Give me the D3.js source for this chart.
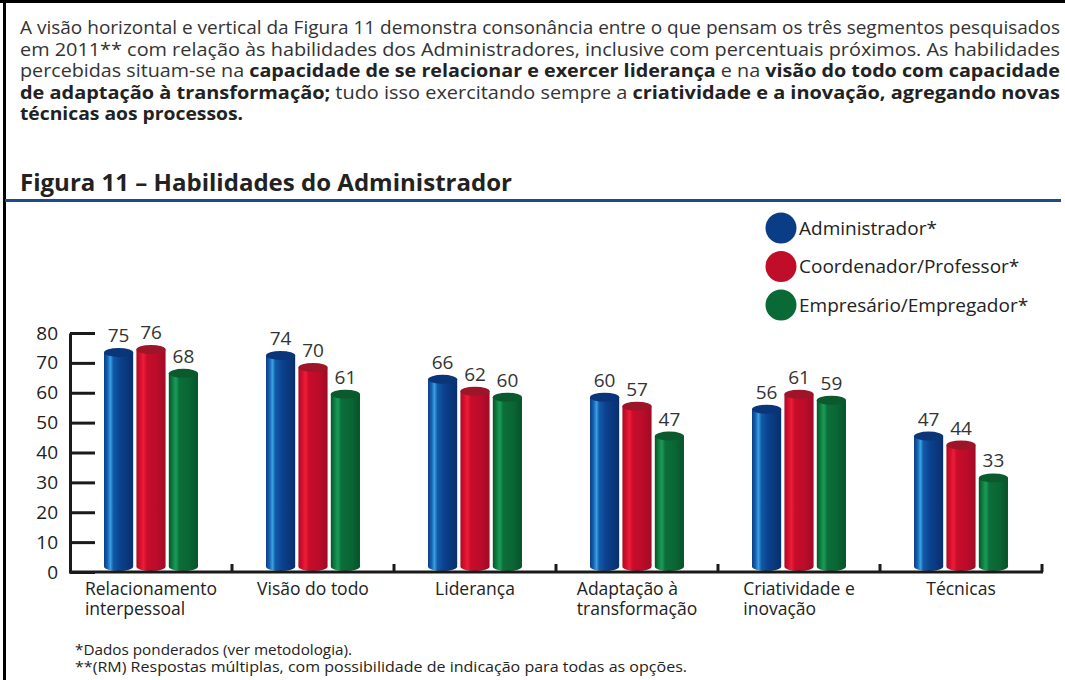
<!DOCTYPE html>
<html>
<head>
<meta charset="utf-8">
<script src="https://cdn.jsdelivr.net/npm/d3@7"></script>
<style>
  body { margin: 0; background: #fff; }
  svg { display: block; }
</style>
</head>
<body>
<div id="chart"></div>
<script>
// Data
const categories = [
    ['Relacionamento', 'interpessoal'],
    ['Visão do todo'],
    ['Liderança'],
    ['Adaptação à', 'transformação'],
    ['Criatividade e', 'inovação'],
    ['Técnicas']
];
const seriesNames = ['Administrador*', 'Coordenador/Professor*', 'Empresário/Empregador*'];
const administrador = [75, 74, 66, 60, 56, 47];
const coordenador = [76, 70, 62, 57, 61, 44];
const empresario = [68, 61, 60, 47, 59, 33];
const yTicks = [0, 10, 20, 30, 40, 50, 60, 70, 80];

const paragraph = [
    [['A visão horizontal e vertical da Figura 11 demonstra consonância entre o que pensam os três segmentos pesquisados', false]],
    [['em 2011** com relação às habilidades dos Administradores, inclusive com percentuais próximos. As habilidades', false]],
    [['percebidas situam-se na ', false], ['capacidade de se relacionar e exercer liderança', true], [' e na ', false], ['visão do todo com capacidade', true]],
    [['de adaptação à transformação;', true], [' tudo isso exercitando sempre a ', false], ['criatividade e a inovação, agregando novas', true]],
    [['técnicas aos processos.', true]]
];
const title = 'Figura 11 – Habilidades do Administrador';
const footnotes = [
    '*Dados ponderados (ver metodologia).',
    '**(RM) Respostas múltiplas, com possibilidade de indicação para todas as opções.'
];

const width = 1065, height = 680;
const font = '"Open Sans", "Noto Sans", sans-serif';

const svg = d3.select('#chart').append('svg')
    .attr('width', width)
    .attr('height', height)
    .attr('viewBox', [0, 0, width, height]);

// Frame (top and left black edges)
svg.append('rect').attr('x', 0).attr('y', 0).attr('width', width).attr('height', 3).attr('fill', '#000');
svg.append('rect').attr('x', 3).attr('y', 0).attr('width', 3).attr('height', height).attr('fill', '#000');

// Intro paragraph, justified by textLength
const paraY = [34, 55.5, 77, 98.5, 120];
paragraph.forEach((line, i) => {
    const t = svg.append('text')
        .attr('x', 20)
        .attr('y', paraY[i])
        .attr('font-family', font)
        .attr('font-size', 17.5)
        .attr('fill', '#333')
        .attr('textLength', i < 4 ? 1040 : 223)
        .attr('lengthAdjust', 'spacingAndGlyphs');
    line.forEach(([s, bold]) => {
        t.append('tspan')
            .attr('font-weight', bold ? 700 : 400)
            .attr('fill', bold ? '#222' : '#333')
            .text(s);
    });
});

// Title + blue rule
svg.append('text')
    .attr('x', 20).attr('y', 191)
    .attr('font-family', font)
    .attr('font-size', 23)
    .attr('font-weight', 700)
    .attr('fill', '#222')
    .attr('textLength', 492)
    .attr('lengthAdjust', 'spacingAndGlyphs')
    .text(title);
svg.append('rect').attr('x', 5).attr('y', 199).attr('width', 1056).attr('height', 3).attr('fill', '#1d4b8c');

// Colors / gradients
const colors = [
    { base: '#0b3d86', top: '#0a3578', stops: [['0%', '#0a3a80'], ['12%', '#1662b4'], ['22%', '#3aa0e2'], ['32%', '#125aa8'], ['55%', '#0b418e'], ['100%', '#082f6c']] },
    { base: '#c00d2a', top: '#9e1428', stops: [['0%', '#a80c26'], ['14%', '#d8102e'], ['24%', '#ee1c38'], ['36%', '#c80c2a'], ['70%', '#bb0c2a'], ['100%', '#a00a26']] },
    { base: '#0a6a36', top: '#0a5a2d', stops: [['0%', '#085228'], ['14%', '#0f8244'], ['24%', '#1a9c58'], ['36%', '#0c6e3a'], ['70%', '#0a6634'], ['100%', '#07522a']] }
];
const defs = svg.append('defs');
colors.forEach((c, i) => {
    const g = defs.append('linearGradient').attr('id', 'cyl' + i)
        .attr('x1', '0%').attr('x2', '100%').attr('y1', '0%').attr('y2', '0%');
    c.stops.forEach(([o, col]) => g.append('stop').attr('offset', o).attr('stop-color', col));
});

// Scales
const x0 = d3.scaleBand().domain(d3.range(categories.length)).range([70, 1042]).padding(0);
const x1 = d3.scaleBand().domain(d3.range(seriesNames.length)).range([0, x0.bandwidth()])
    .paddingInner(0.1).paddingOuter(1.05);
const y = d3.scaleLinear().domain([0, 80]).range([572, 333]);

// Y axis, ticks pointing inwards
const yAxis = svg.append('g')
    .attr('transform', 'translate(70,0)')
    .call(d3.axisLeft(y).tickValues(yTicks).tickSizeInner(-25).tickSizeOuter(0).tickPadding(12));
yAxis.select('.domain').attr('stroke', '#1a1a1a').attr('stroke-width', 3);
yAxis.selectAll('.tick line').attr('stroke', '#1a1a1a').attr('stroke-width', 3);
yAxis.selectAll('.tick text')
    .attr('font-family', font).attr('font-size', 19).attr('fill', '#222');

// Bars (cylinders)
const allSeries = [administrador, coordenador, empresario];
const ry = 4.5;
const bars = svg.append('g');
categories.forEach((cat, ci) => {
    allSeries.forEach((vals, si) => {
        const v = vals[ci];
        const bx = x0(ci) + x1(si);
        const bw = x1.bandwidth();
        const cx = bx + bw / 2;
        const yTop = y(v) + ry;
        const yBot = y(0) - ry - 1;
        const g = bars.append('g');
        g.append('path')
            .attr('d', `M${bx},${yTop} L${bx},${yBot} A${bw / 2},${ry} 0 0 0 ${bx + bw},${yBot} L${bx + bw},${yTop} Z`)
            .attr('fill', `url(#cyl${si})`);
        g.append('ellipse')
            .attr('cx', cx).attr('cy', yTop)
            .attr('rx', bw / 2).attr('ry', ry)
            .attr('fill', colors[si].top);
        g.append('text')
            .attr('x', cx).attr('y', y(v) - 6)
            .attr('text-anchor', 'middle')
            .attr('font-family', font).attr('font-size', 19)
            .attr('fill', '#333')
            .text(v);
    });
});

// X axis line with separator ticks
const xAxis = svg.append('g');
xAxis.append('line')
    .attr('x1', 69).attr('x2', x0.range()[1] + 1)
    .attr('y1', y(0)).attr('y2', y(0))
    .attr('stroke', '#1a1a1a').attr('stroke-width', 3);
categories.forEach((cat, ci) => {
    const sx = x0(ci) + x0.bandwidth();
    xAxis.append('line')
        .attr('x1', sx).attr('x2', sx)
        .attr('y1', y(0)).attr('y2', y(0) - 8)
        .attr('stroke', '#1a1a1a').attr('stroke-width', 3);
});

// Category labels (multi-line blocks left aligned, block centred)
categories.forEach((cat, ci) => {
    const cx = x0(ci) + x0.bandwidth() / 2;
    const t = xAxis.append('text')
        .attr('font-family', font).attr('font-size', 17.5)
        .attr('fill', '#222');
    cat.forEach((s, li) => {
        t.append('tspan').attr('x', 0).attr('y', 595 + li * 20).text(s);
    });
    const w = t.node().getBBox().width;
    t.attr('transform', `translate(${cx - w / 2},0)`);
});

// Legend
const legend = svg.append('g');
seriesNames.forEach((name, i) => {
    const ly = 228 + i * 38.5;
    legend.append('circle')
        .attr('cx', 781).attr('cy', ly).attr('r', 15.5)
        .attr('fill', colors[i].base);
    legend.append('text')
        .attr('x', 799).attr('y', ly)
        .attr('dy', '0.35em')
        .attr('font-family', font).attr('font-size', 19)
        .attr('fill', '#222')
        .text(name);
});

// Footnotes
footnotes.forEach((s, i) => {
    svg.append('text')
        .attr('x', 75).attr('y', 655 + i * 17)
        .attr('font-family', font).attr('font-size', 14)
        .attr('fill', '#222')
        .attr('textLength', i === 0 ? 277 : 612)
        .attr('lengthAdjust', 'spacingAndGlyphs')
        .text(s);
});
</script>
</body>
</html>
